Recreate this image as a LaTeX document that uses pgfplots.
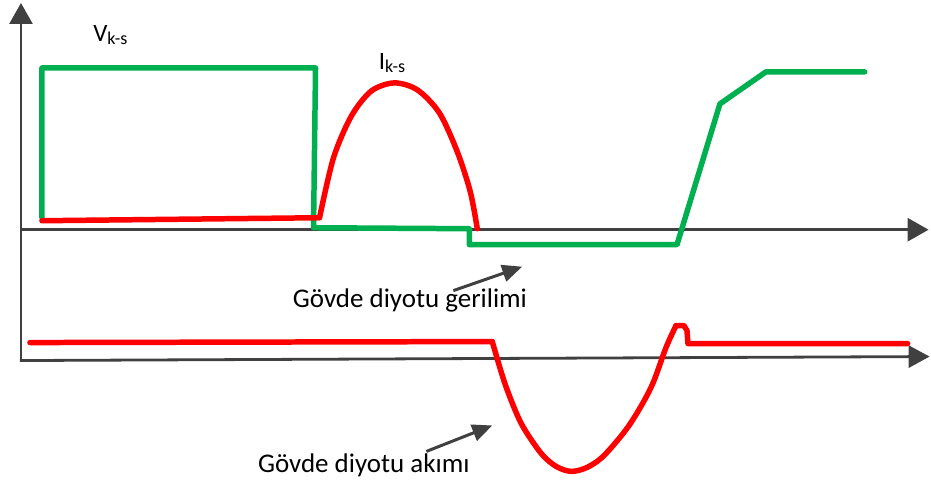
\documentclass[border=0pt]{standalone}
\usepackage{fontspec}
\setmainfont{Carlito}
\usepackage{pgfplots}
\pgfplotsset{compat=1.18}
\usetikzlibrary{arrows.meta}
\definecolor{vgreen}{HTML}{00B050}
\definecolor{axgray}{HTML}{404040}
\begin{document}
\begin{tikzpicture}
\begin{axis}[scale only axis, width=465.5pt, height=242.5pt,
  xmin=0, xmax=931, ymin=0, ymax=485, y dir=reverse,
  hide axis, clip=false]
\path (axis cs:0,0) rectangle (axis cs:931,485);
% axes
\draw[axgray, line width=1.4pt, -{Triangle[length=10.5pt,width=11.5pt]}] (axis cs:21,362) -- (axis cs:21,3);
\draw[axgray, line width=1.4pt, -{Triangle[length=10.5pt,width=11.5pt]}] (axis cs:21,230) -- (axis cs:930,230);
\draw[axgray, line width=1.4pt, -{Triangle[length=10.5pt,width=11pt]}] (axis cs:20,361) -- (axis cs:931,357);
% V_ks (green)
\addplot[vgreen, line width=2.75pt, line cap=round, line join=round] coordinates {
 (42,218) (42,68) (316,68) (314,228) (470,229) (470,245) (678,245) (721,104) (767,72) (866,72)};
% I_ks upper (red)
\addplot[red, line width=2.75pt, line cap=round, line join=round] coordinates {
 (42,221) (320,218)};
\addplot[red, line width=2.75pt, line cap=round, line join=round, smooth] coordinates {
 (320,218) (334,158) (352,116) (372,91) (395,83) (418,90) (440,113) (458,152) (471,192) (478,229)};
% lower body diode current
\addplot[red, line width=2.75pt, line cap=round, line join=round] coordinates {
 (30,343) (493,342)};
\addplot[red, line width=2.75pt, line cap=round, line join=round, smooth] coordinates {
 (493,342) (506,385) (522,424) (542,454) (557,467) (572,472) (588,468) (605,456) (630,426) (652,388) (667,348) (677,326)};
\addplot[red, line width=2.75pt, line cap=round, line join=round] coordinates {
 (677,326) (685,326) (688,331) (689,344) (693,344) (909,344)};
% annotation arrows
\draw[axgray, line width=1.5pt, -{Triangle[length=10pt,width=8.5pt]}] (axis cs:454,291) -- (axis cs:523,267);
\draw[axgray, line width=1.5pt, -{Triangle[length=10pt,width=8.5pt]}] (axis cs:427,452) -- (axis cs:493,426);
% labels
\node[anchor=base west, inner sep=0pt] at (axis cs:93,42) {\fontsize{12.5}{14}\selectfont V\raisebox{-1.5pt}{\fontsize{9}{10}\selectfont k-s}};
\node[anchor=base west, inner sep=0pt] at (axis cs:379,70) {\fontsize{12.5}{14}\selectfont I\raisebox{-1.5pt}{\fontsize{9}{10}\selectfont k-s}};
\node[anchor=base west, inner sep=0pt] at (axis cs:293,308) {\fontsize{13.5}{16}\selectfont Gövde diyotu gerilimi};
\node[anchor=base west, inner sep=0pt] at (axis cs:258,473) {\fontsize{13.5}{16}\selectfont Gövde diyotu akımı};
\end{axis}
\end{tikzpicture}
\end{document}
